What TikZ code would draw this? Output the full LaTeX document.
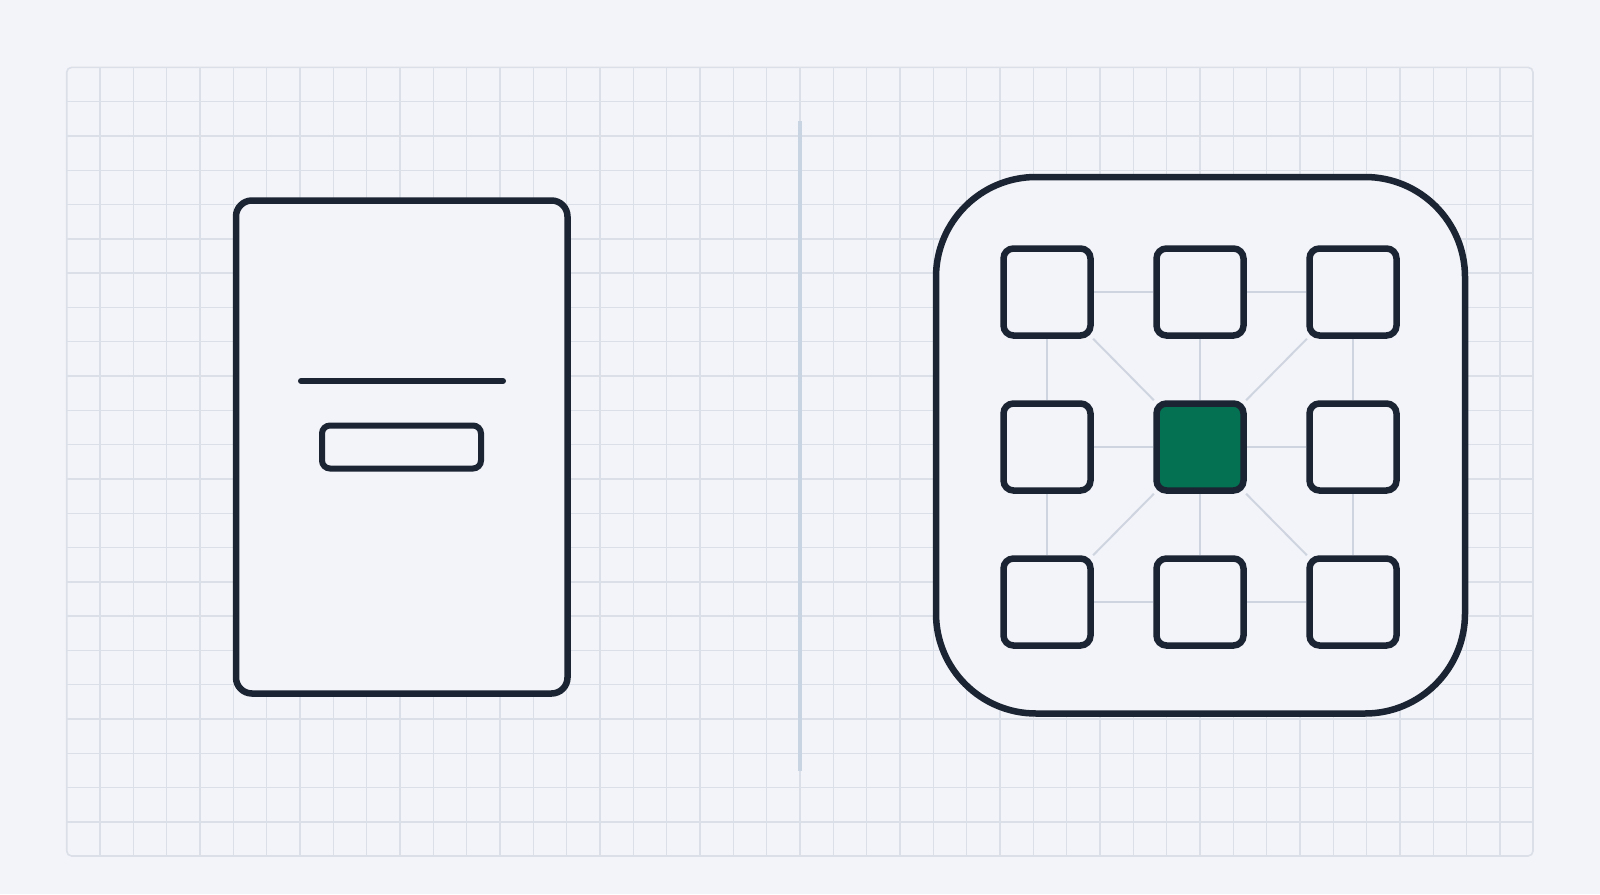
\documentclass[tikz,border=0pt]{standalone}
\definecolor{bgc}{RGB}{243,244,249}
\definecolor{gridc}{RGB}{219,223,231}
\definecolor{ink}{RGB}{27,36,50}
\definecolor{linkc}{RGB}{207,213,224}
\definecolor{divc}{RGB}{200,212,226}
\definecolor{greenc}{RGB}{4,113,82}
\tikzset{
  card/.style={draw=ink, line width=3.25pt, fill=bgc, rectangle, inner sep=0pt},
  cell/.style={card, minimum width=43.5pt, minimum height=43.5pt, rounded corners=5pt},
  link/.style={draw=linkc, line width=1pt},
}
\begin{document}
\begin{tikzpicture}[x=0.5pt,y=-0.5pt]
\useasboundingbox (0,0) rectangle (1600,894);
\fill[bgc] (0,0) rectangle (1600,894);
% grid
\begin{scope}
\clip[rounded corners=2.5pt] (66.7,67.3) rectangle (1533,856);
\foreach \k in {0,...,44} {\draw[gridc, line width=0.7pt] ({66.7+33.33*\k},67.3) -- ({66.7+33.33*\k},856);}
\foreach \k in {0,...,23} {\draw[gridc, line width=0.7pt] (66.7,{67.3+34.3*\k}) -- (1533,{67.3+34.3*\k});}
\end{scope}
\draw[gridc, line width=0.8pt, rounded corners=2.5pt] (66.7,67.3) rectangle (1533,856);
% divider
\coordinate (dtop) at (800,121);
\coordinate (dbot) at (800,771);
\draw[divc, line width=1.75pt] (dtop) -- (dbot);
% left card
\node[card, minimum width=165.75pt, minimum height=246.5pt, rounded corners=8pt] (leftcard) at (401.75,447) {};
\coordinate (la) at (301,381);
\coordinate (lb) at (503,381);
\draw[ink, line width=3pt, line cap=round] (la) -- (lb);
\node[card, line width=3pt, minimum width=79.5pt, minimum height=21.5pt, rounded corners=4pt] (btn) at (401.5,447) {};
% right box
\node[card, minimum width=264.5pt, minimum height=268.25pt, rounded corners=50pt] (rightbox) at (1200.5,445.25) {};
% cells
\node[cell] (c11) at (1047,292) {};
\node[cell] (c12) at (1200,292) {};
\node[cell] (c13) at (1353,292) {};
\node[cell] (c21) at (1047,447) {};
\node[cell, fill=greenc] (c22) at (1200,447) {};
\node[cell] (c23) at (1353,447) {};
\node[cell] (c31) at (1047,602) {};
\node[cell] (c32) at (1200,602) {};
\node[cell] (c33) at (1353,602) {};
% links
\begin{scope}[on background layer/.style={}]
\draw[link] (c11) -- (c12);
\draw[link] (c12) -- (c13);
\draw[link] (c21) -- (c22);
\draw[link] (c22) -- (c23);
\draw[link] (c31) -- (c32);
\draw[link] (c32) -- (c33);
\draw[link] (c11) -- (c21);
\draw[link] (c21) -- (c31);
\draw[link] (c12) -- (c22);
\draw[link] (c22) -- (c32);
\draw[link] (c13) -- (c23);
\draw[link] (c23) -- (c33);
\draw[link] (c22) -- (c11);
\draw[link] (c22) -- (c13);
\draw[link] (c22) -- (c31);
\draw[link] (c22) -- (c33);
\end{scope}
\end{tikzpicture}
\end{document}
